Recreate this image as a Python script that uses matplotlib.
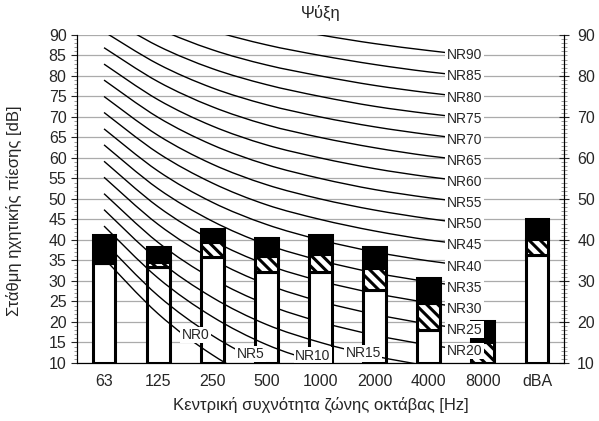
import numpy as np
import matplotlib.pyplot as plt
from matplotlib.path import Path
from matplotlib.patches import PathPatch
from matplotlib.ticker import MultipleLocator

plt.rcParams['font.family'] = ['Liberation Sans', 'DejaVu Sans']
plt.rcParams['hatch.linewidth'] = 2.2

# octave bands + overall dBA
bands = ['63', '125', '250', '500', '1000', '2000', '4000', '8000', 'dBA']

# measured levels (stacked: white / hatched / black)
white_top = [34.5, 33.4, 35.8, 32.3, 32.3, 27.8, 18.0, 10.0, 36.3]
hatch_top = [34.5, 34.6, 39.6, 36.1, 36.5, 33.2, 24.6, 15.0, 40.2]
black_top = [41.2, 38.4, 42.6, 40.4, 41.2, 38.4, 30.7, 20.3, 45.0]

# NR curves, 63 Hz .. 8000 Hz
nr_levels = [0, 5, 10, 15, 20, 25, 30, 35, 40, 45, 50, 55, 60, 65, 70, 75, 80, 85, 90]
nr_values = [
    [35.5, 22.0, 12.0, 4.8, 0.0, -3.5, -6.1, -8.0],
    [39.5, 26.4, 16.7, 9.7, 5.0, 1.6, -1.0, -2.9],
    [43.4, 30.7, 21.3, 14.5, 10.0, 6.7, 4.2, 2.3],
    [47.4, 35.1, 26.0, 19.4, 15.0, 11.7, 9.3, 7.5],
    [51.3, 39.4, 30.6, 24.3, 20.0, 16.8, 14.4, 12.6],
    [55.3, 43.8, 35.3, 29.2, 25.0, 21.9, 19.5, 17.8],
    [59.2, 48.1, 39.9, 34.0, 30.0, 27.0, 24.7, 22.9],
    [63.2, 52.5, 44.6, 38.9, 35.0, 32.0, 29.8, 28.1],
    [67.1, 56.8, 49.2, 43.8, 40.0, 37.1, 34.9, 33.2],
    [71.1, 61.2, 53.9, 48.6, 45.0, 42.2, 40.0, 38.4],
    [75.0, 65.5, 58.5, 53.5, 50.0, 47.3, 45.2, 43.5],
    [79.0, 69.9, 63.2, 58.4, 55.0, 52.3, 50.3, 48.7],
    [82.9, 74.2, 67.8, 63.2, 60.0, 57.4, 55.4, 53.8],
    [86.9, 78.6, 72.5, 68.1, 65.0, 62.5, 60.5, 59.0],
    [90.8, 82.9, 77.1, 73.0, 70.0, 67.6, 65.7, 64.1],
    [94.8, 87.3, 81.8, 77.9, 75.0, 72.6, 70.8, 69.3],
    [98.7, 91.6, 86.4, 82.7, 80.0, 77.7, 75.9, 74.4],
    [102.7, 96.0, 91.1, 87.6, 85.0, 82.8, 81.0, 79.6],
    [106.6, 100.3, 95.7, 92.5, 90.0, 87.9, 86.2, 84.7],
]

# where the labels of the low curves sit (x index, dB)
low_label_pos = {0: (1.69, 16.8), 5: (2.71, 12.2), 10: (3.86, 11.8), 15: (4.79, 12.4)}


def smooth_path(xs, ys):
    # catmull-rom style bezier through the points (like excel smoothed lines)
    pts = np.column_stack([xs, ys])
    verts = [pts[0]]
    codes = [Path.MOVETO]
    n = len(pts)
    for i in range(n - 1):
        p0 = pts[i - 1] if i > 0 else pts[i]
        p1 = pts[i]
        p2 = pts[i + 1]
        p3 = pts[i + 2] if i + 2 < n else pts[i + 1]
        verts += [p1 + (p2 - p0) / 6, p2 - (p3 - p1) / 6, p2]
        codes += [Path.CURVE4] * 3
    return Path(verts, codes)


fig = plt.figure(figsize=(5.99, 4.21), dpi=100)
ax = fig.add_axes([0.1285, 0.1378, 0.8131, 0.7791])

x = np.arange(len(bands))
xc = np.arange(8)
w = 0.42
lw = 2.2
txt = '#262626'

# bars
ax.bar(x, np.array(white_top) - 10, bottom=10, width=w, color='white',
       edgecolor='black', linewidth=lw, zorder=2)
ax.bar(x, np.array(hatch_top) - np.array(white_top), bottom=white_top, width=w,
       color='white', edgecolor='black', hatch='\\\\\\', linewidth=lw, zorder=2)
ax.bar(x, np.array(black_top) - np.array(hatch_top), bottom=hatch_top, width=w,
       color='black', edgecolor='black', linewidth=lw, zorder=2)

# NR curves + labels
for nr, vals in zip(nr_levels, nr_values):
    z = 3.5 if nr < 20 else 1.5
    ax.add_patch(PathPatch(smooth_path(xc, vals), fill=False, edgecolor='black',
                           linewidth=1.0, zorder=z))
    if nr in low_label_pos:
        lx, ly = low_label_pos[nr]
    else:
        lx, ly = 6.66, vals[-1] + 0.3
    ax.text(lx, ly, 'NR%d' % nr, ha='center', va='center', fontsize=10,
            color=txt, zorder=5,
            bbox=dict(boxstyle='square,pad=0.1', facecolor='white', edgecolor='none'))

ax.set_xlim(-0.5, 8.5)
ax.set_ylim(10, 90)
ax.set_xticks(x)
ax.set_xticklabels(bands)
ax.tick_params(axis='x', length=0, pad=8, labelsize=11.5, colors=txt)
ax.yaxis.set_major_locator(MultipleLocator(5))
ax.yaxis.set_minor_locator(MultipleLocator(1))
ax.tick_params(axis='y', which='major', length=4, labelsize=11.5, colors=txt)
ax.tick_params(axis='y', which='minor', length=2, color='#888888')
ax.yaxis.grid(True, color='#ababab', linewidth=0.9)
ax.set_axisbelow(True)
ax.spines['top'].set_visible(False)
ax.spines['right'].set_visible(True)

ax2 = ax.twinx()
ax2.set_ylim(10, 90)
ax2.yaxis.set_major_locator(MultipleLocator(10))
ax2.yaxis.set_minor_locator(MultipleLocator(1))
ax2.tick_params(axis='y', which='major', direction='inout', length=7, labelsize=11.5,
                colors=txt, pad=6)
ax2.tick_params(axis='y', which='minor', direction='inout', length=4, color='#888888')
ax2.spines['top'].set_visible(False)

ax.set_title('Ψύξη', fontsize=12, color=txt, pad=12)
ax.set_xlabel('Κεντρική συχνότητα ζώνης οκτάβας [Hz]', fontsize=12, color=txt, labelpad=6)
ax.set_ylabel('Στάθμη ηχητικής πίεσης [dB]', fontsize=12, color=txt)
ax.yaxis.set_label_coords(-0.112, 0.465)

fig.savefig('out.png', dpi=100)
